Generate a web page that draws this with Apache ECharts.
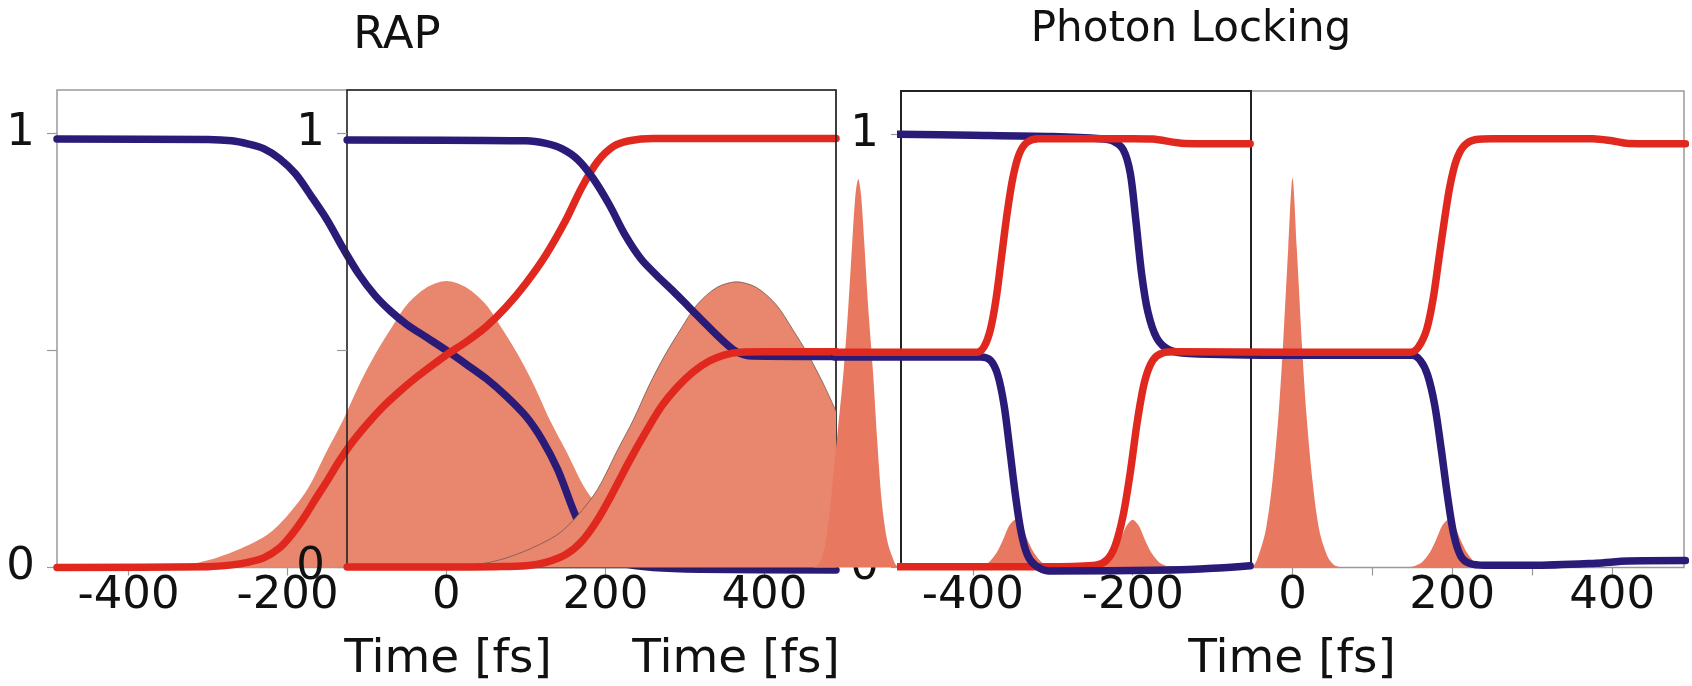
<!DOCTYPE html>
<html><head><meta charset="utf-8">
<script src="https://cdn.jsdelivr.net/npm/echarts@6/dist/echarts.min.js"></script>
<style>html,body{margin:0;padding:0;background:#fff}#c{width:1692px;height:686px}</style>
</head><body><div id="c"></div>
<script>
// ---------- tick / label values ----------
const rapTicksLeft = [-400, -200];
const rapTicksRight = [0, 200, 400];
const plTicks = [-400, -200, 0, 100, 200, 300, 400];
const plLabels = [-400, -200, 0, 200, 400];
const yTicks = [0, 0.5, 1];
const yLabels = [0, 1];
const titles = ['RAP', 'Photon Locking'];
const axisName = 'Time [fs]';

// ---------- RAP panel (time fs, population) ----------
const rapPulse1 = [[-490,0],[-400,0.001],[-350,0.004],[-310,0.012],[-270,0.035],[-226,0.075],[-200,0.12],[-175,0.18],[-150,0.27],[-130,0.34],[-110,0.42],[-90,0.49],[-70,0.55],[-50,0.605],[-25,0.645],[0,0.66],[25,0.645],[50,0.605],[70,0.55],[90,0.49],[110,0.42],[130,0.34],[150,0.27],[175,0.18],[200,0.12],[226,0.075],[270,0.035],[310,0.012],[350,0.004],[400,0.001],[490,0]];
const rapBlue1 = [[-490,0.987],[-300,0.986],[-270,0.983],[-250,0.976],[-230,0.965],[-210,0.942],[-190,0.907],[-170,0.855],[-150,0.8],[-130,0.735],[-110,0.675],[-90,0.627],[-70,0.59],[-50,0.56],[-25,0.53],[0,0.5],[25,0.468],[50,0.435],[75,0.395],[100,0.348],[120,0.295],[140,0.225],[160,0.13],[175,0.07],[195,0.03],[220,0.01],[260,0],[320,-0.004],[490,-0.006]];
const rapRed1 = [[-490,0],[-300,0.002],[-270,0.006],[-250,0.012],[-230,0.022],[-210,0.045],[-195,0.075],[-180,0.113],[-165,0.157],[-150,0.2],[-135,0.245],[-120,0.285],[-100,0.33],[-80,0.37],[-60,0.404],[-40,0.435],[-20,0.463],[0,0.49],[25,0.52],[50,0.555],[75,0.6],[100,0.655],[125,0.72],[150,0.8],[170,0.875],[190,0.935],[210,0.97],[230,0.983],[260,0.988],[490,0.988]];
const rapPulse2 = [[0,0],[15,0.004],[55,0.012],[95,0.035],[139,0.075],[165,0.12],[190,0.18],[215,0.27],[235,0.34],[255,0.42],[275,0.49],[295,0.55],[315,0.605],[340,0.645],[365,0.658],[390,0.645],[415,0.605],[435,0.55],[455,0.49],[475,0.42],[490,0.36]];
const rapBlue2 = [[-125,0.985],[100,0.983],[125,0.977],[145,0.965],[165,0.94],[185,0.895],[205,0.835],[225,0.765],[245,0.71],[265,0.672],[285,0.637],[305,0.6],[325,0.563],[345,0.527],[365,0.497],[385,0.487],[490,0.486]];
const rapRed2 = [[-125,0.001],[0,0.001],[60,0.002],[100,0.004],[125,0.012],[150,0.03],[170,0.06],[190,0.11],[210,0.175],[230,0.245],[250,0.31],[270,0.37],[290,0.415],[310,0.45],[330,0.475],[350,0.49],[370,0.496],[400,0.497],[490,0.497]];

// ---------- Photon Locking panel ----------
const plSpikeLeft = [[-600,0],[-592,0.01],[-585,0.05],[-578,0.15],[-570,0.3],[-562,0.45],[-556,0.6],[-551,0.75],[-547,0.86],[-543.5,0.897],[-540,0.86],[-536,0.75],[-531,0.6],[-525,0.45],[-520,0.3],[-514,0.15],[-507,0.06],[-500,0.02],[-496,0.005],[-490,0]];
const plBump1 = [[-400,0],[-390,0.003],[-380,0.012],[-370,0.035],[-362,0.065],[-355,0.095],[-347,0.11],[-339,0.095],[-332,0.065],[-324,0.035],[-314,0.012],[-304,0.003],[-294,0]];
const plBump2 = [[-253,0],[-243,0.003],[-233,0.012],[-223,0.035],[-215,0.065],[-208,0.095],[-200,0.11],[-192,0.095],[-185,0.065],[-177,0.035],[-167,0.012],[-157,0.003],[-147,0]];
const plSpike = [[-60,0],[-50,0.002],[-44,0.02],[-33.5,0.086],[-25,0.2],[-17.4,0.355],[-12,0.509],[-5.3,0.739],[0,0.899],[5.3,0.739],[12,0.509],[17.4,0.355],[25,0.2],[33.5,0.086],[44,0.025],[52,0.006],[62,0]];
const plBump3 = [[142,0],[152,0.003],[162,0.012],[172,0.035],[180,0.065],[187,0.095],[195,0.11],[203,0.095],[210,0.065],[218,0.035],[228,0.012],[238,0.003],[248,0]];
const plBlue1 = [[-497,1.0],[-400,0.998],[-300,0.995],[-240,0.99],[-225,0.985],[-212,0.965],[-203,0.91],[-196,0.8],[-189,0.68],[-181,0.59],[-170,0.53],[-155,0.503],[-130,0.494],[0,0.49],[150,0.49],[160,0.478],[169,0.445],[178,0.375],[186,0.275],[194,0.165],[202,0.075],[211,0.025],[222,0.009],[240,0.005],[300,0.005],[380,0.01],[420,0.015],[492,0.016]];
const plRed1 = [[-495,0.002],[-300,0.002],[-245,0.006],[-232,0.018],[-222,0.05],[-212,0.12],[-203,0.22],[-194,0.34],[-185,0.43],[-175,0.478],[-163,0.495],[-145,0.498],[0,0.497],[148,0.497],[158,0.51],[168,0.55],[176,0.62],[183,0.71],[190,0.8],[197,0.88],[205,0.94],[215,0.974],[230,0.988],[250,0.99],[376,0.99],[400,0.985],[420,0.979],[492,0.978]];

// gap series (drawn through the left extension of the Photon Locking axis)
const plBlue2 = [[-573,0.486],[-390,0.486],[-378,0.478],[-369,0.445],[-361,0.375],[-354,0.275],[-347,0.17],[-340,0.085],[-332,0.03],[-322,0.005],[-305,-0.008],[-150,-0.006],[-100,-0.002],[-53,0.004]];
const plRed2 = [[-573,0.497],[-395,0.497],[-386,0.51],[-378,0.55],[-371,0.62],[-364,0.72],[-357,0.82],[-350,0.9],[-342,0.955],[-332,0.982],[-318,0.99],[-200,0.99],[-175,0.989],[-135,0.979],[-53,0.978]];

// ---------- styling ----------
const FONT = 'DejaVu Sans';
const BLUE = '#2a1b78', RED = '#e0281f', HUMP = '#e8876e', SPIKE = '#e8785f';
const LW = 7.5;
// Photon Locking px/fs scale = 783/980; gap grid spans px 780..1251 on the same scale
const GAP_MIN = -641.44, GAP_MAX = -51.94;

function xAx(grid, min, max, ticks, labels, show) {
  return {
    gridIndex: grid, type: 'value', min: min, max: max, show: show,
    axisLine: {show: false, onZero: false}, splitLine: {show: false},
    axisTick: {show: ticks.length > 0, customValues: ticks, length: 8, lineStyle: {color: '#999', width: 1.2}},
    axisLabel: {show: labels.length > 0, customValues: labels, fontFamily: FONT, fontSize: 45, color: '#111', margin: 6,
      formatter: v => String(v)}
  };
}
function yAx(grid, show, z) {
  return {
    gridIndex: grid, type: 'value', min: 0, max: 1.1, show: show, z: z,
    axisLine: {show: false, onZero: false}, splitLine: {show: false},
    axisTick: {show: true, customValues: yTicks, length: 10, lineStyle: {color: '#999', width: 1.2}},
    axisLabel: {customValues: yLabels, fontFamily: FONT, fontSize: 45, color: '#111', margin: 22,
      formatter: v => String(v)}
  };
}
function line(data, color, xi, z) {
  return {type: 'line', data: data, xAxisIndex: xi, yAxisIndex: xi, z: z, clip: false,
    smooth: 0.3, symbol: 'none', showSymbol: false, silent: true,
    lineStyle: {color: color, width: LW, cap: 'round', join: 'round'}};
}
function area(data, color, xi, z, outline) {
  return {type: 'line', data: data, xAxisIndex: xi, yAxisIndex: xi, z: z, clip: false,
    smooth: 0.3, symbol: 'none', showSymbol: false, silent: true,
    lineStyle: outline ? {color: '#75574f', width: 0.8} : {width: 0, color: color},
    areaStyle: {color: color, opacity: 1}};
}
function txt(s, x, y, size) {
  return {type: 'text', x: x, y: y, z: 10, style: {text: s, font: 'normal ' + size + 'px "DejaVu Sans"', fill: '#111',
    align: 'center', verticalAlign: 'middle', textAlign: 'center', textVerticalAlign: 'middle'}};
}

const chart = echarts.init(document.getElementById('c'), null, {renderer: 'canvas'});
chart.setOption({
  animation: false,
  backgroundColor: '#fff',
  grid: [
    {left: 57, top: 90, width: 779, height: 477.5, show: true, borderColor: '#9a9a9a', borderWidth: 1.5, z: 0, containLabel: false, outerBoundsMode: 'none'},
    {left: 347, top: 90, width: 489, height: 477.5, show: true, borderColor: '#222', borderWidth: 1.6, z: 1.5, containLabel: false, outerBoundsMode: 'none'},
    {left: 901, top: 91, width: 350, height: 476.5, show: true, borderColor: '#222', borderWidth: 2, z: 0.5, containLabel: false, outerBoundsMode: 'none'},
    {left: 901, top: 91, width: 783, height: 476.5, show: true, borderColor: '#9a9a9a', borderWidth: 1.5, z: 0, containLabel: false, outerBoundsMode: 'none'},
    {left: 780, top: 91, width: 471, height: 476.5, show: false, containLabel: false, outerBoundsMode: 'none'}
  ],
  xAxis: [
    xAx(0, -490, 490, rapTicksLeft, rapTicksLeft, true),
    xAx(1, -125, 490, rapTicksRight, rapTicksRight, true),
    xAx(2, -490, -52, [], [], false),
    xAx(3, -490, 490, plTicks, plLabels, true),
    xAx(4, GAP_MIN, GAP_MAX, [], [], false)
  ],
  yAxis: [
    yAx(0, true, 0),
    yAx(1, true, 1.6),
    yAx(2, false, 0),
    yAx(3, true, 0),
    yAx(4, false, 0)
  ],
  graphic: [
    txt(titles[0], 397, 36, 45),
    txt(titles[1], 1191, 30, 42),
    txt(axisName, 448, 660, 47),
    txt(axisName, 736, 660, 47),
    txt(axisName, 1292, 660, 47)
  ],
  series: [
    area(rapPulse1, HUMP, 0, 1, false),
    line(rapBlue1, BLUE, 0, 1.2),
    line(rapRed1, RED, 0, 1.3),
    area(rapPulse2, HUMP, 0, 2, true),
    line(rapBlue2, BLUE, 0, 3),
    line(rapRed2, RED, 0, 3.1),
    area(plBump1, SPIKE, 3, 1, false),
    area(plBump2, SPIKE, 3, 1, false),
    area(plSpike, SPIKE, 3, 1, false),
    area(plBump3, SPIKE, 3, 1, false),
    area(plSpikeLeft, SPIKE, 4, 3.5, false),
    line(plBlue1, BLUE, 3, 4),
    line(plRed1, RED, 3, 4.1),
    line(plBlue2, BLUE, 4, 4.2),
    line(plRed2, RED, 4, 4.3)
  ]
});
</script></body></html>
